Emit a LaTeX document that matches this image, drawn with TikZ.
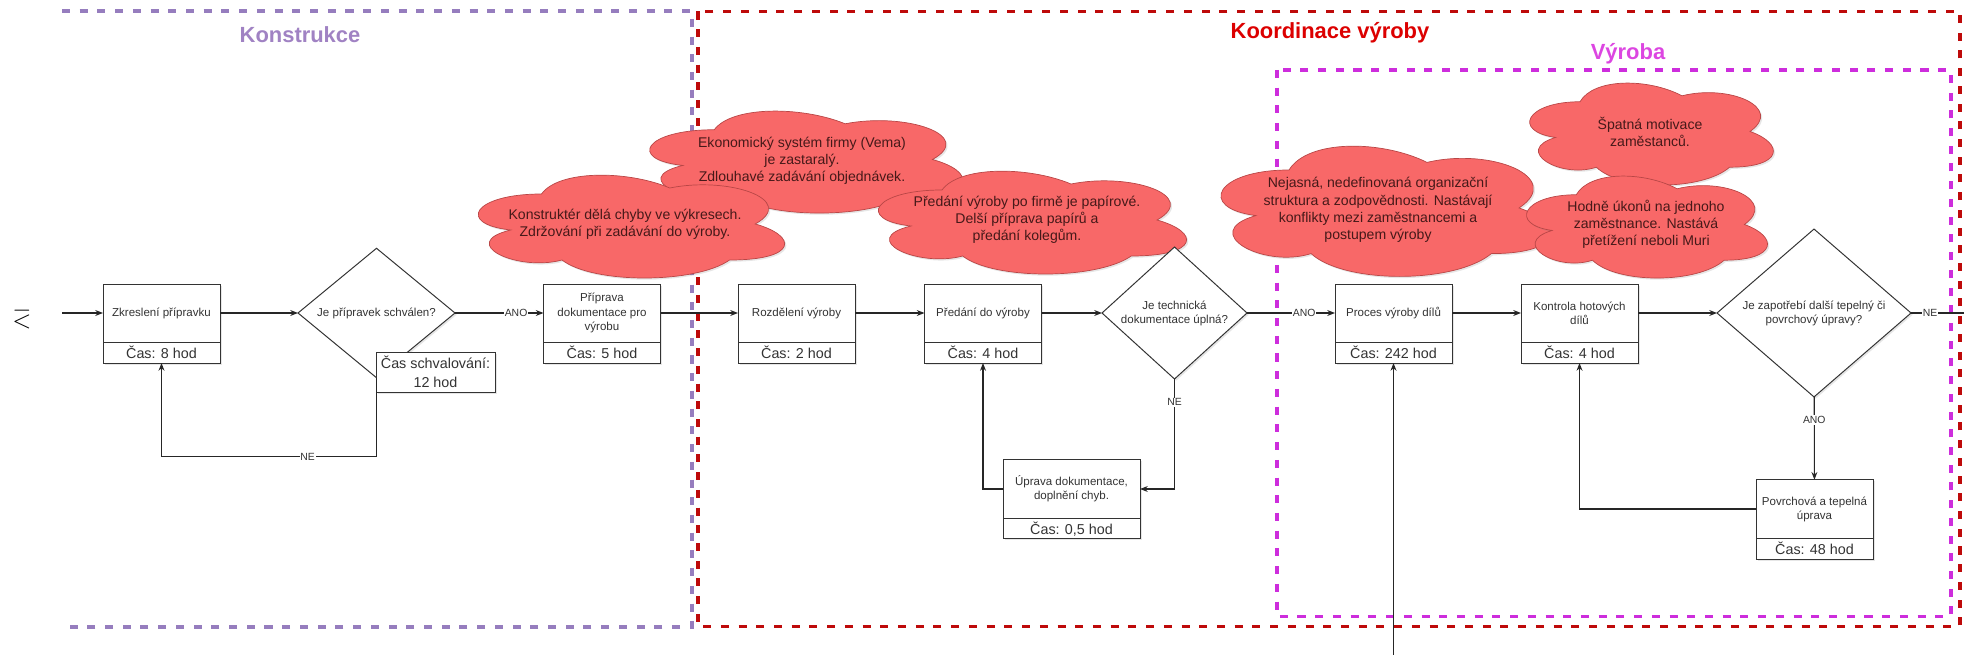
\documentclass[tikz,border=0pt]{standalone}
\usepackage{fontspec}
\setmainfont{Liberation Sans}
\usepackage{tikz}
\usetikzlibrary{positioning,calc,arrows.meta,shapes.geometric,shadows}
\definecolor{konstrline}{RGB}{150,125,190}
\definecolor{konstrtitle}{RGB}{160,130,195}
\definecolor{koordline}{RGB}{190,10,10}
\definecolor{koordtitle}{RGB}{220,0,0}
\definecolor{vyrobaline}{RGB}{205,45,220}
\definecolor{vyrobatitle}{RGB}{220,70,225}
\definecolor{cloudfill}{RGB}{248,104,104}
\definecolor{cloudline}{RGB}{185,70,70}
\definecolor{cloudtext}{RGB}{70,25,25}
\newlength\pxu
\setlength\pxu{0.025cm}
% cloud outline: left, top, width, height
\newcommand{\cloudat}[4]{%
  \draw[cloudbg, shift={(#1,#2)}, xscale=#3, yscale=#4]
    (0.25,0.25) .. controls (0.05,0.25) and (0,0.5) .. (0.16,0.55)
    .. controls (0,0.66) and (0.18,0.9) .. (0.31,0.8)
    .. controls (0.4,1) and (0.7,1) .. (0.8,0.8)
    .. controls (1,0.8) and (1,0.6) .. (0.875,0.5)
    .. controls (1,0.3) and (0.8,0.1) .. (0.625,0.2)
    .. controls (0.5,0.05) and (0.3,0.05) .. (0.25,0.25) -- cycle;}

\begin{document}
\begin{tikzpicture}[x=0.025cm, y=-0.025cm, >={Stealth[length=5.5pt,width=4.2pt]},
  proc/.style={rectangle, draw=black!80, fill=white, line width=0.7pt, outer sep=0pt, minimum width=117\pxu, minimum height=58\pxu, inner sep=1pt, align=center, font=\fontsize{8.2}{10}\selectfont, text=black!80, drop shadow={shadow xshift=1.2pt, shadow yshift=-1.2pt, opacity=0.2}},
  cas/.style={rectangle, draw=black!80, fill=white, line width=0.7pt, outer sep=0pt, minimum width=117\pxu, minimum height=21\pxu, inner sep=0pt, align=center, font=\fontsize{10.2}{13.8}\selectfont, text=black!80, drop shadow={shadow xshift=1.2pt, shadow yshift=-1.2pt, opacity=0.2}},
  decision/.style={diamond, draw=black!80, fill=white, line width=0.7pt, outer sep=0pt, inner sep=0pt, align=center, font=\fontsize{8.2}{10}\selectfont, text=black!80, drop shadow={shadow xshift=1.2pt, shadow yshift=-1.2pt, opacity=0.2}},
  cloudbg/.style={draw=cloudline, fill=cloudfill, line width=0.5pt, drop shadow={shadow xshift=1.2pt, shadow yshift=-1.2pt, opacity=0.2}},
  cloudtxt/.style={align=center, font=\fontsize{10}{12.2}\selectfont, text=cloudtext},
  frame/.style={dash pattern=on 5.7pt off 6.9pt, line width=2.3pt},
  title/.style={font=\fontsize{15.6}{18}\selectfont\bfseries},
  flow/.style={->, draw=black!85, line width=0.8pt},
  lbl/.style={fill=white, inner sep=0.6pt, font=\fontsize{7.4}{8}\selectfont, text=black!80}]

\useasboundingbox (0,0) rectangle (1964,655);

% frames
\draw[frame, konstrline] (62,11) -- (692,11) -- (692,627) -- (62,627);
\draw[frame, koordline] (698,11.5) rectangle (1960,626.5);
\draw[frame, vyrobaline] (1277,70) rectangle (1951,616.5);

\node[title, text=konstrtitle] (t-konstr) at (300,35) {Konstrukce};
\node[title, text=koordtitle] (t-koord) at (1330,33) {Koordinace výroby};
\node[title, text=vyrobatitle] (t-vyroba) at (1628,53.5) {Výroba};

\node[rotate=180, font=\fontsize{16}{16}\selectfont] (mark) at (22,320) {$\geq$};

% clouds
\cloudat{627}{100}{349}{119}
\node[cloudtxt] (c-ekon) at (802,161) {Ekonomický systém firmy (Vema)\\je zastaralý.\\Zdlouhavé zadávání objednávek.};
\cloudat{456}{164}{342}{120}
\node[cloudtxt] (c-konst) at (625,224) {Konstruktér dělá chyby ve výkresech.\\Zdržování při zadávání do výroby.};
\cloudat{856}{160}{344}{120}
\node[cloudtxt] (c-pred) at (1027,220) {Předání výroby po firmě je papírové.\\Delší příprava papírů a\\předání kolegům.};
\cloudat{1197}{132}{368}{152}
\node[cloudtxt] (c-nej) at (1378,210) {Nejasná, nedefinovaná organizační\\struktura a zodpovědnosti. Nastávají\\konflikty mezi zaměstnancemi a\\postupem výroby};
\cloudat{1512}{72}{272}{119}
\node[cloudtxt] (c-spat) at (1650,132) {Špatná motivace\\zaměstanců.};
\cloudat{1509}{165}{269}{119}
\node[cloudtxt] (c-hodne) at (1646,224) {Hodně úkonů na jednoho\\zaměstnance. Nastává\\přetížení neboli Muri};

% process boxes
\node[proc] (zkr) at (161.5,313) {Zkreslení přípravku};
\node[cas, below=0pt of zkr] (zkr-t) {Čas: 8 hod};
\node[decision, minimum width=157\pxu, minimum height=78\pxu] (d1) at (376.5,313) {Je přípravek schválen?};
\node[cas, minimum width=119\pxu, minimum height=40\pxu] (schv) at (435.5,372) {Čas schvalování:\\12 hod};
\node[proc] (prip) at (602,313) {Příprava\\dokumentace pro\\výrobu};
\node[cas, below=0pt of prip] (prip-t) {Čas: 5 hod};
\node[proc] (rozd) at (796.5,313) {Rozdělení výroby};
\node[cas, below=0pt of rozd] (rozd-t) {Čas: 2 hod};
\node[proc] (pred) at (983,313) {Předání do výroby};
\node[cas, below=0pt of pred] (pred-t) {Čas: 4 hod};
\node[decision, minimum width=145\pxu, minimum height=107\pxu] (d2) at (1174.5,313) {Je technická\\dokumentace úplná?};
\node[proc, minimum width=137\pxu, minimum height=59.5\pxu] (uprava) at (1071.5,489) {Úprava dokumentace,\\doplnění chyb.};
\node[cas, minimum width=137\pxu, minimum height=20\pxu, below=0pt of uprava] (uprava-t) {Čas: 0,5 hod};
\node[proc] (proces) at (1393.5,313) {Proces výroby dílů};
\node[cas, below=0pt of proces] (proces-t) {Čas: 242 hod};
\node[proc] (kontr) at (1579.5,313) {Kontrola hotových\\dílů};
\node[cas, below=0pt of kontr] (kontr-t) {Čas: 4 hod};
\node[decision, minimum width=194\pxu, minimum height=116\pxu] (d3) at (1814,313) {Je zapotřebí další tepelný či\\povrchový úpravy?};
\node[proc, minimum height=58.5\pxu] (povrch) at (1814.5,509) {Povrchová a tepelná\\úprava};
\node[cas, below=0pt of povrch] (povrch-t) {Čas: 48 hod};

\coordinate (in) at (62,313);
\coordinate (out) at (1964,313);
\coordinate (from) at (1393.5,655);

% connectors
\draw[flow] (in) -- (zkr);
\draw[flow] (zkr) -- (d1);
\draw[flow] (d1) -- node[lbl, pos=0.69] {ANO} (prip);
\draw[flow] (d1.south) -- ++(0,79) -| node[lbl, pos=0.16] {NE} (zkr-t.south);
\draw[flow] (prip) -- (rozd);
\draw[flow] (rozd) -- (pred);
\draw[flow] (pred) -- (d2);
\draw[flow] (d2) -- node[lbl, pos=0.65] {ANO} (proces);
\draw[flow] (d2.south) |- node[lbl, pos=0.105] {NE} (uprava.east);
\draw[flow] (uprava.west) -| (pred-t.south);
\draw[flow] (proces) -- (kontr);
\draw[flow] (kontr) -- (d3);
\draw[flow, -] (d3) -- node[lbl, pos=0.36] {NE} (out);
\draw[flow] (d3) -- node[lbl, pos=0.28] {ANO} (povrch);
\draw[flow] (povrch.west) -| (kontr-t.south);
\draw[flow] (from) -- (proces-t.south);
\end{tikzpicture}
\end{document}
